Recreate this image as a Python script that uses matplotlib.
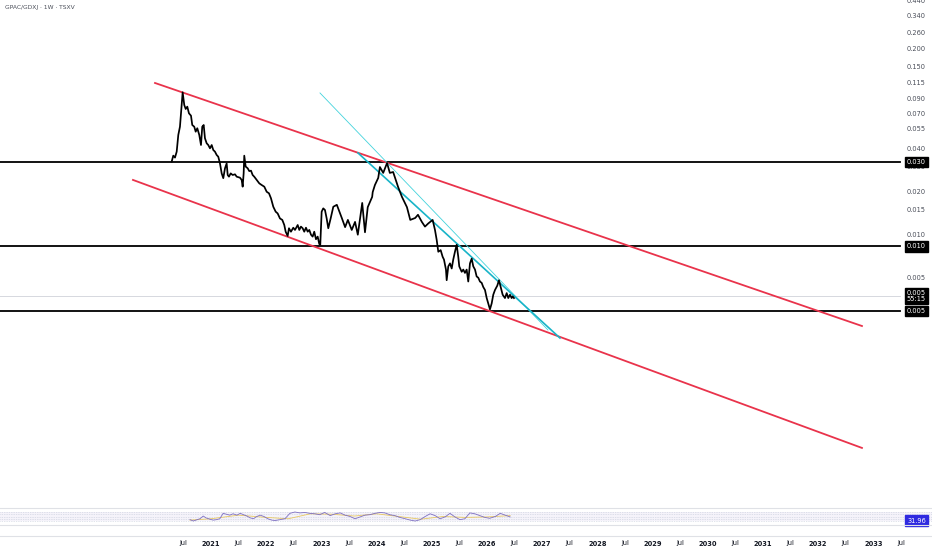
import matplotlib
matplotlib.use('Agg')
import matplotlib.pyplot as plt
import matplotlib.transforms as mtransforms

# ---------------- data ----------------
title = "GPAC/GDXJ · 1W · TSXV"

price_years = [
    2020.288, 2020.317, 2020.348, 2020.379, 2020.408, 2020.438, 2020.469, 2020.487, 2020.516, 2020.542,
    2020.571, 2020.601, 2020.638, 2020.661, 2020.697, 2020.723, 2020.752, 2020.788, 2020.819, 2020.842,
    2020.868, 2020.891, 2020.922, 2020.951, 2020.982, 2021.013, 2021.042, 2021.072, 2021.103, 2021.132,
    2021.163, 2021.194, 2021.223, 2021.254, 2021.284, 2021.303, 2021.326, 2021.357, 2021.393, 2021.435,
    2021.466, 2021.525, 2021.556, 2021.574, 2021.592, 2021.603, 2021.629, 2021.665, 2021.694, 2021.725,
    2021.755, 2021.784, 2021.828, 2021.875, 2021.918, 2021.966, 2022.009, 2022.051, 2022.087, 2022.129,
    2022.172, 2022.208, 2022.250, 2022.292, 2022.328, 2022.353, 2022.389, 2022.413, 2022.449, 2022.491,
    2022.522, 2022.571, 2022.600, 2022.630, 2022.661, 2022.690, 2022.721, 2022.752, 2022.781, 2022.812,
    2022.842, 2022.871, 2022.902, 2022.933, 2022.962, 2022.980, 2023.005, 2023.034, 2023.065, 2023.096,
    2023.125, 2023.168, 2023.216, 2023.280, 2023.370, 2023.430, 2023.480, 2023.550, 2023.610, 2023.660,
    2023.740, 2023.790, 2023.840, 2023.920, 2023.930, 2023.970, 2024.030, 2024.060, 2024.120, 2024.190,
    2024.240, 2024.300, 2024.390, 2024.460, 2024.550, 2024.610, 2024.700, 2024.750, 2024.820, 2024.877,
    2024.937, 2025.016, 2025.058, 2025.089, 2025.118, 2025.161, 2025.197, 2025.221, 2025.257, 2025.270,
    2025.299, 2025.330, 2025.361, 2025.389, 2025.420, 2025.451, 2025.480, 2025.498, 2025.542, 2025.571,
    2025.601, 2025.632, 2025.661, 2025.692, 2025.723, 2025.752, 2025.783, 2025.813, 2025.842, 2025.873,
    2025.904, 2025.933, 2025.964, 2025.995, 2026.024, 2026.054, 2026.085, 2026.114, 2026.145, 2026.187,
    2026.217, 2026.248, 2026.284, 2026.326, 2026.357, 2026.386, 2026.417, 2026.447, 2026.465, 2026.489]
prices = [
    0.0325, 0.0358, 0.0347, 0.0382, 0.0500, 0.0571, 0.0811, 0.0995, 0.0811, 0.0760,
    0.0789, 0.0709, 0.0682, 0.0587, 0.0571, 0.0527, 0.0557, 0.0500, 0.0425, 0.0571,
    0.0587, 0.0474, 0.0437, 0.0425, 0.0403, 0.0425, 0.0392, 0.0382, 0.0362, 0.0352,
    0.0316, 0.0269, 0.0249, 0.0292, 0.0316, 0.0262, 0.0255, 0.0269, 0.0262, 0.0265,
    0.0255, 0.0251, 0.0242, 0.0217, 0.0269, 0.0358, 0.0300, 0.0292, 0.0279, 0.0281,
    0.0262, 0.0255, 0.0242, 0.0229, 0.0223, 0.0217, 0.0200, 0.0195, 0.0180, 0.0157,
    0.0145, 0.0141, 0.0130, 0.0127, 0.0117, 0.0105, 0.0098, 0.0111, 0.0105, 0.0112,
    0.0108, 0.0117, 0.0108, 0.0114, 0.0111, 0.0105, 0.0112, 0.0105, 0.0108, 0.0100,
    0.0097, 0.0105, 0.0093, 0.0097, 0.0086, 0.0085, 0.0145, 0.0153, 0.0149, 0.0130,
    0.0111, 0.0130, 0.0157, 0.0162, 0.0131, 0.0113, 0.0127, 0.0108, 0.0123, 0.0100,
    0.0167, 0.0104, 0.0156, 0.0184, 0.0199, 0.0223, 0.0250, 0.0298, 0.0271, 0.0318,
    0.0271, 0.0275, 0.0216, 0.0184, 0.0156, 0.0127, 0.0131, 0.0138, 0.0123, 0.0114,
    0.0120, 0.0127, 0.0108, 0.0092, 0.0076, 0.0078, 0.0070, 0.0067, 0.0057, 0.0048,
    0.0060, 0.0063, 0.0058, 0.0067, 0.0076, 0.0085, 0.0070, 0.0060, 0.0055, 0.0057,
    0.0054, 0.0057, 0.0047, 0.0063, 0.0068, 0.0060, 0.0057, 0.0051, 0.0050, 0.0047,
    0.0046, 0.0043, 0.0041, 0.0036, 0.0033, 0.0030, 0.0033, 0.0038, 0.0041, 0.0044,
    0.0048, 0.0043, 0.0038, 0.0036, 0.0039, 0.0036, 0.0038, 0.0036, 0.0037, 0.0036]

# trend-line anchors (date, price)
red_upper_years = [2019.986, 2032.793]
red_upper_prices = [0.1156, 0.002294]
red_lower_years = [2019.587, 2032.793]
red_lower_prices = [0.0242, 0.000321]
cyan_thin_years = [2022.975, 2027.105]
cyan_thin_prices = [0.0984, 0.00215]
cyan_thick_years = [2023.663, 2027.322]
cyan_thick_prices = [0.0374, 0.00189]

level_prices = [0.0323, 0.0083, 0.00292]
level_labels = ["0.030", "0.010", "0.005"]
last_price = 0.0037
last_label = "0.005\n55:15"

ytick_values = [0.432, 0.34, 0.26, 0.20, 0.15, 0.115, 0.09, 0.07, 0.055, 0.04, 0.03, 0.02, 0.015, 0.01, 0.005]
ytick_labels = ["0.440", "0.340", "0.260", "0.200", "0.150", "0.115", "0.090", "0.070", "0.055",
                "0.040", "0.030", "0.020", "0.015", "0.010", "0.005"]

xtick_values = [2020.5, 2021, 2021.5, 2022, 2022.5, 2023, 2023.5, 2024, 2024.5, 2025, 2025.5, 2026,
                2026.5, 2027, 2027.5, 2028, 2028.5, 2029, 2029.5, 2030, 2030.5, 2031, 2031.5, 2032,
                2032.5, 2033, 2033.5]
xtick_labels = ["Jul", "2021", "Jul", "2022", "Jul", "2023", "Jul", "2024", "Jul", "2025", "Jul", "2026",
                "Jul", "2027", "Jul", "2028", "Jul", "2029", "Jul", "2030", "Jul", "2031", "Jul", "2032",
                "Jul", "2033", "Jul"]

rsi_years = [2020.62, 2020.68, 2020.75, 2020.80, 2020.86, 2020.91, 2020.98, 2021.04, 2021.10, 2021.16,
             2021.22, 2021.28, 2021.34, 2021.40, 2021.47, 2021.53, 2021.59, 2021.65, 2021.71, 2021.77,
             2021.83, 2021.89, 2021.96, 2022.03, 2022.10, 2022.16, 2022.25, 2022.34, 2022.43, 2022.52,
             2022.61, 2022.70, 2022.79, 2022.88, 2022.97, 2023.06, 2023.16, 2023.25, 2023.34, 2023.43,
             2023.52, 2023.61, 2023.70, 2023.79, 2023.88, 2023.97, 2024.06, 2024.15, 2024.24, 2024.33,
             2024.42, 2024.52, 2024.61, 2024.70, 2024.79, 2024.88, 2024.97, 2025.06, 2025.15, 2025.24,
             2025.33, 2025.42, 2025.51, 2025.60, 2025.69, 2025.78, 2025.87, 2025.96, 2026.05, 2026.15,
             2026.24, 2026.33, 2026.42]
rsi_values = [36, 30, 36, 40, 52, 44, 38, 34, 36, 40, 64, 60, 56, 62, 56, 64, 58, 52, 44, 40,
              50, 56, 50, 40, 34, 32, 36, 40, 64, 70, 66, 68, 64, 62, 58, 68, 54, 62, 66, 56,
              50, 40, 48, 56, 58, 64, 68, 66, 58, 54, 46, 40, 34, 30, 36, 50, 62, 54, 40, 48,
              64, 48, 36, 40, 66, 62, 54, 46, 42, 50, 64, 56, 48]
rsi_ma_years = [2020.62, 2021.0, 2021.5, 2022.0, 2022.4, 2022.8, 2023.2, 2023.6, 2024.0, 2024.4,
                2024.8, 2025.2, 2025.6, 2026.0, 2026.42]
rsi_ma_values = [34, 40, 56, 46, 40, 62, 60, 52, 62, 50, 38, 50, 46, 48, 54]
rsi_last_label = "31.96"

# ---------------- figure ----------------
W, H = 932, 550
fig = plt.figure(figsize=(W / 100, H / 100), dpi=100)
fig.patch.set_facecolor('white')


def fy(py):
    return 1 - py / H


ax = fig.add_axes([0, fy(506), 1, 506 / H])
ax.set_yscale('log')
ax.set_xlim(2017.178, 2034.062)
ax.set_ylim(0.0001258, 0.4408)
ax.axis('off')

tr_price = mtransforms.blended_transform_factory(ax.transAxes, ax.transData)
xline_end = 900 / W
label_x = 916.5 / W

# y tick labels
for v, s in zip(ytick_values, ytick_labels):
    ax.text(label_x, v, s, transform=tr_price, ha='center', va='center',
            fontsize=4.8, color='#4a4e59')

# current price grey line
ax.plot([0, xline_end], [last_price, last_price], transform=tr_price,
        color='#d6d8de', lw=0.7, zorder=1)

# horizontal levels
for v in level_prices:
    ax.plot([0, xline_end], [v, v], transform=tr_price, color='black', lw=1.3, zorder=2)

# channel lines
red = '#e9334b'
ax.plot(red_upper_years, red_upper_prices, color=red, lw=1.3, zorder=3)
ax.plot(red_lower_years, red_lower_prices, color=red, lw=1.3, zorder=3)
ax.plot(cyan_thin_years, cyan_thin_prices, color='#43d3dc', lw=0.6, zorder=3)
ax.plot(cyan_thick_years, cyan_thick_prices, color='#18b4c8', lw=1.2, zorder=3)

# price
ax.plot(price_years, prices, color='black', lw=1.25, zorder=4, solid_joinstyle='round')

# label boxes
for v, s in zip(level_prices, level_labels):
    ax.text(label_x, v, s, transform=tr_price, ha='center', va='center', fontsize=4.8,
            color='white', zorder=6,
            bbox=dict(boxstyle='square,pad=0.35', fc='black', ec='black'))
ax.text(label_x, last_price, last_label, transform=tr_price, ha='center', va='center',
        fontsize=4.8, color='white', zorder=6, linespacing=1.0,
        bbox=dict(boxstyle='square,pad=0.3', fc='black', ec='black'))

# title
fig.text(5 / W, fy(7), title, ha='left', va='center', fontsize=4.3, color='#4a4e59')

# ---------------- RSI pane ----------------
axr = fig.add_axes([0, fy(524), 1, 15 / H])
axr.set_xlim(ax.get_xlim())
axr.set_ylim(16.7, 83.3)
axr.axis('off')
axr.axhspan(30, 70, color='#7e57c2', alpha=0.07, lw=0)
for lvl in (30, 40, 50, 60, 70):
    axr.axhline(lvl, color='#c3c9d8', lw=0.5, ls=(0, (1, 1.5)))
axr.plot(rsi_ma_years, rsi_ma_values, color='#e8c860', lw=0.6, zorder=2)
axr.plot(rsi_years, rsi_values, color='#7e6fc2', lw=0.6, zorder=3)
tr_rsi = mtransforms.blended_transform_factory(axr.transAxes, axr.transData)
axr.text(label_x, 31.96, rsi_last_label, transform=tr_rsi, ha='center', va='center',
         fontsize=4.8, color='white', zorder=6,
         bbox=dict(boxstyle='square,pad=0.35', fc='#2f2ae0', ec='#2f2ae0'))

# pane separators
for py in (508, 524.5, 536):
    fig.add_artist(plt.Line2D([0, 1], [fy(py), fy(py)], transform=fig.transFigure,
                              color='#dfe1e6', lw=0.8))

# time axis labels
tr_time = mtransforms.blended_transform_factory(ax.transData, fig.transFigure)
for v, s in zip(xtick_values, xtick_labels):
    bold = s != "Jul"
    ax.text(v, fy(543.5), s, transform=tr_time, ha='center', va='center', fontsize=4.8,
            color='#131722', fontweight='bold' if bold else 'normal', clip_on=False)

fig.savefig('out.png', dpi=100, facecolor='white')
